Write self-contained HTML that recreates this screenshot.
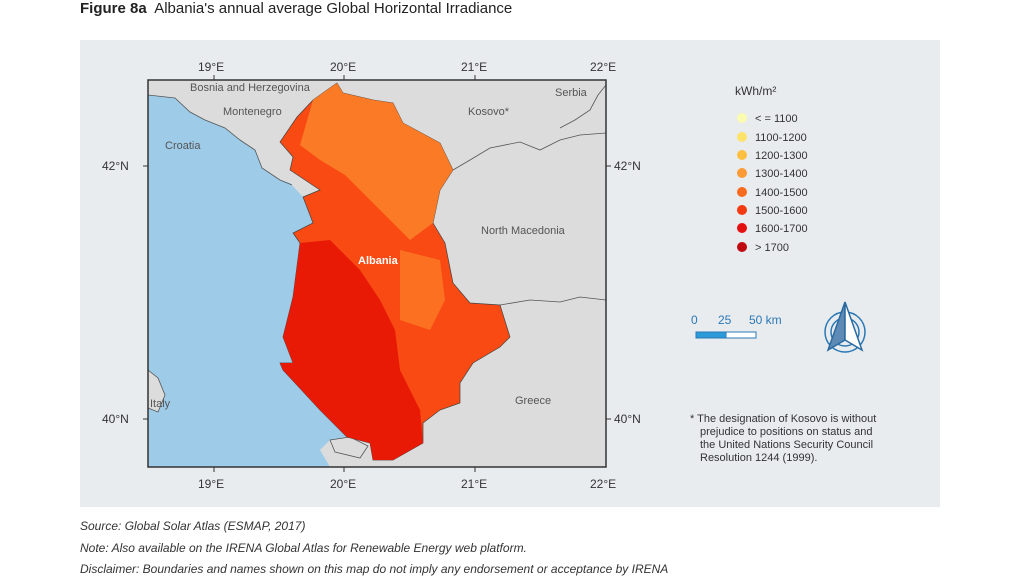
<!DOCTYPE html>
<html><head><meta charset="utf-8"><style>
body{margin:0;width:1024px;height:580px;background:#fff;font-family:"Liberation Sans",sans-serif;overflow:hidden;position:relative}
.t{position:absolute;white-space:nowrap}
</style></head><body>
<div class="t" style="left:80px;top:0px;font-size:15px;color:#222"><b>Figure 8a</b>&nbsp; Albania's annual average Global Horizontal Irradiance</div>
<div style="position:absolute;left:80px;top:40px;width:860px;height:467px;background:#e9ecef"></div>
<svg style="position:absolute;left:0;top:0" width="1024" height="580" font-family="Liberation Sans, sans-serif">
<defs><clipPath id="c"><rect x="148" y="80" width="458" height="387"/></clipPath></defs>
<g clip-path="url(#c)">
<rect x="148" y="80" width="458" height="387" fill="#dcdcdc"/>
<path d="M148,95 L175,98 L190,112 L205,120 L225,128 L240,140 L255,150 L262,168 L280,180 L290,183 L303,197 L313,223 L293,233 L300,243 L293,297 L283,337 L293,363 L280,363 L283,370 L320,410 L347,437 L360,442 L330,440 L320,450 L330,467 L148,467 L148,370 L155,372 L165,395 L160,410 L148,405 Z" fill="#9ecbe8"/>
<path d="M148,95 L175,98 L190,112 L205,120 L225,128 L240,140 L255,150 L262,168 L280,180 L292,185" fill="none" stroke="#555" stroke-width="0.8"/>
<path d="M148,370 L158,378 L165,395 L158,412 L148,408" fill="#dcdcdc" stroke="#555" stroke-width="0.8"/>
<path d="M330,440 L350,437 L368,446 L360,458 L335,452 Z" fill="#dcdcdc" stroke="#555" stroke-width="0.8"/>
<path d="M453,170 L470,160 L490,148 L520,142 L540,150 L560,140 L580,135 L606,133" fill="none" stroke="#555" stroke-width="0.8"/>
<path d="M560,128 L575,120 L590,110 L598,95 L606,85" fill="none" stroke="#555" stroke-width="0.8"/>
<path d="M500,305 L530,300 L560,302 L580,297 L606,300" fill="none" stroke="#555" stroke-width="0.8"/>
<path d="M337,83 L343,93 L373,100 L393,103 L403,123 L440,143 L453,170 L440,190 L433,223 L445,243 L453,283 L470,303 L500,305 L510,337 L500,347 L473,363 L460,383 L460,403 L440,410 L423,423 L423,443 L393,460 L373,460 L370,443 L347,437 L320,410 L283,370 L280,363 L293,363 L283,337 L293,297 L300,243 L293,233 L313,223 L303,197 L320,190 L290,170 L293,157 L280,142 L297,117 L313,100 L327,90 Z" fill="#f84a12" stroke="#444" stroke-width="0.7"/>
<path d="M337,83 L343,93 L373,100 L393,103 L403,123 L440,143 L453,170 L440,190 L433,223 L410,240 L390,220 L370,200 L345,175 L320,160 L300,145 L313,100 L327,90 Z" fill="#fb7a26"/>
<path d="M300,243 L330,240 L360,270 L380,300 L395,330 L400,370 L420,410 L423,443 L393,460 L373,460 L370,443 L347,437 L320,410 L283,370 L280,363 L293,363 L283,337 L293,297 Z" fill="#e81a06"/>
<path d="M400,250 L440,260 L445,300 L430,330 L400,320 Z" fill="#fb7a26" opacity="0.8"/>
</g>
<rect x="148" y="80" width="458" height="387" fill="none" stroke="#333" stroke-width="1.5"/>
<g font-size="12" fill="#333">
<text x="198" y="71">19°E</text><text x="330" y="71">20°E</text><text x="461" y="71">21°E</text><text x="590" y="71">22°E</text>
<text x="198" y="488">19°E</text><text x="330" y="488">20°E</text><text x="461" y="488">21°E</text><text x="590" y="488">22°E</text>
<text x="102" y="170">42°N</text><text x="102" y="423">40°N</text>
<text x="614" y="170">42°N</text><text x="614" y="423">40°N</text>
</g>
<g stroke="#333"><line x1="214" y1="75" x2="214" y2="80"/><line x1="344" y1="75" x2="344" y2="80"/><line x1="475" y1="75" x2="475" y2="80"/><line x1="214" y1="467" x2="214" y2="472"/><line x1="344" y1="467" x2="344" y2="472"/><line x1="475" y1="467" x2="475" y2="472"/><line x1="143" y1="166" x2="148" y2="166"/><line x1="143" y1="419" x2="148" y2="419"/><line x1="606" y1="166" x2="611" y2="166"/><line x1="606" y1="419" x2="611" y2="419"/></g>
<g font-size="11" fill="#555">
<text x="190" y="91">Bosnia and Herzegovina</text><text x="223" y="115">Montenegro</text><text x="165" y="149">Croatia</text>
<text x="468" y="115">Kosovo*</text><text x="555" y="96">Serbia</text><text x="481" y="234">North Macedonia</text>
<text x="515" y="404">Greece</text><text x="150" y="407">Italy</text>
</g>
<text x="358" y="264" font-size="11" font-weight="bold" fill="#fff">Albania</text>
<text x="735" y="95" font-size="12" fill="#333">kWh/m²</text>
<g font-size="11" fill="#333">
<circle cx="742" cy="118" r="5" fill="#fafab0"/><text x="755" y="122">&lt; = 1100</text>
<circle cx="742" cy="137" r="5" fill="#fde36a"/><text x="755" y="141">1100-1200</text>
<circle cx="742" cy="155" r="5" fill="#fdbf40"/><text x="755" y="159">1200-1300</text>
<circle cx="742" cy="173" r="5" fill="#fc9b35"/><text x="755" y="177">1300-1400</text>
<circle cx="742" cy="192" r="5" fill="#f86a1e"/><text x="755" y="196">1400-1500</text>
<circle cx="742" cy="210" r="5" fill="#f43a10"/><text x="755" y="214">1500-1600</text>
<circle cx="742" cy="228" r="5" fill="#e41010"/><text x="755" y="232">1600-1700</text>
<circle cx="742" cy="247" r="5" fill="#c00810"/><text x="755" y="251">&gt; 1700</text>
</g>
<g font-size="12" fill="#2a78b5"><text x="691" y="324">0</text><text x="718" y="324">25</text><text x="749" y="324">50 km</text></g>
<rect x="696" y="332" width="30" height="6" fill="#2a9ad8" stroke="#2a78b5"/><rect x="726" y="332" width="30" height="6" fill="#fff" stroke="#2a78b5"/>
<g fill="none" stroke="#2a78b5" stroke-width="1.5"><circle cx="845" cy="332" r="20"/><circle cx="845" cy="332" r="14"/></g>
<path d="M845,302 L828,350 L845,340 Z" fill="#5e8bb5" stroke="#2a6aa0" stroke-width="1.5"/>
<path d="M845,302 L862,350 L845,340 Z" fill="#fff" stroke="#2a6aa0" stroke-width="1.5"/>
<g font-size="11" fill="#333">
<text x="690" y="422">* The designation of Kosovo is without</text>
<text x="700" y="435">prejudice to positions on status and</text>
<text x="700" y="448">the United Nations Security Council</text>
<text x="700" y="461">Resolution 1244 (1999).</text>
</g>
<g font-size="12" font-style="italic" fill="#333">
<text x="80" y="530">Source: Global Solar Atlas (ESMAP, 2017)</text>
<text x="80" y="552">Note: Also available on the IRENA Global Atlas for Renewable Energy web platform.</text>
<text x="80" y="573">Disclaimer: Boundaries and names shown on this map do not imply any endorsement or acceptance by IRENA</text>
</g>
</svg>
</body></html>
